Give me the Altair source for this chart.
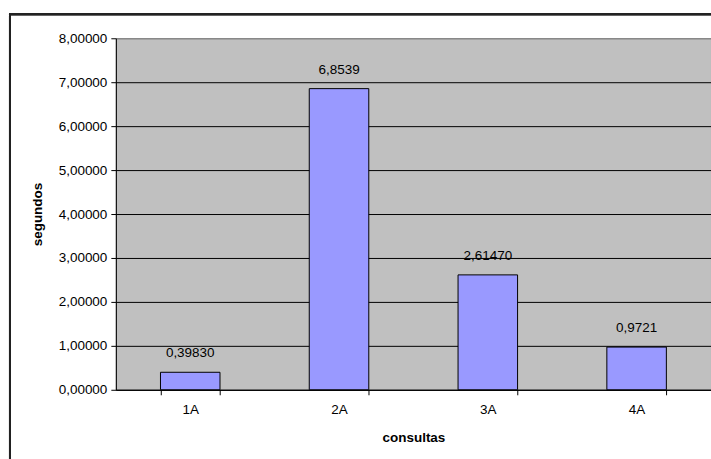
import altair as alt
import pandas as pd

# Query timings (seconds) per query
consultas = ["1A", "2A", "3A", "4A"]
segundos = [0.39830, 6.8539, 2.61470, 0.9721]
rotulos = ["0,39830", "6,8539", "2,61470", "0,9721"]

df = pd.DataFrame({"consulta": consultas, "segundos": segundos, "rotulo": rotulos})

FONT = "Liberation Sans"
FS = 13.5

x_enc = alt.X(
    "consulta:N",
    sort=consultas,
    scale=alt.Scale(paddingInner=0.6, paddingOuter=0.3),
    axis=alt.Axis(
        title="consultas",
        labelAngle=0,
        tickBand="extent",
        tickSize=5,
        tickColor="black",
        domainColor="black",
        labelPadding=8,
        titlePadding=14,
    ),
)

y_scale = alt.Scale(domain=[0, 8], nice=False)

bars = alt.Chart(df).mark_bar(
    color="#9999FF", stroke="black", strokeWidth=1
).encode(
    x=x_enc,
    y=alt.Y(
        "segundos:Q",
        scale=y_scale,
        axis=alt.Axis(
            title="segundos",
            values=list(range(0, 9)),
            labelExpr="replace(format(datum.value, '.5f'), '.', ',')",
            tickSize=5,
            tickColor="black",
            domainColor="black",
            gridColor={"condition": {"test": "datum.value == 8", "value": "#808080"}, "value": "black"},
            gridOpacity=1,
            labelPadding=4,
            titlePadding=14,
        ),
    ),
)

labels = alt.Chart(df).mark_text(
    dy=-12, fontSize=FS, font=FONT, color="black", baseline="bottom"
).encode(
    x=alt.X("consulta:N", sort=consultas),
    y=alt.Y("segundos:Q", scale=y_scale),
    text="rotulo:N",
)

# Outer chart frame
frame = alt.Chart(df).mark_rect(
    fill=None, stroke="#222222", strokeWidth=2, clip=False
).encode(
    x=alt.value(-106), x2=alt.value(700), y=alt.value(-24), y2=alt.value(500)
)

chart = (
    alt.layer(frame, bars, labels)
    .properties(
        width=596,
        height=352,
        background="white",
        padding={"left": 116, "top": 38, "right": 0, "bottom": 70},
        autosize=alt.AutoSizeParams(type="none"),
    )
    .configure_view(fill="#C0C0C0", stroke="#808080", strokeWidth=1)
    .configure_axis(
        labelFont=FONT,
        labelFontSize=FS,
        labelColor="black",
        titleFont=FONT,
        titleFontSize=FS,
        titleFontWeight="bold",
        titleColor="black",
        grid=True,
    )
    .configure_axisX(grid=False)
)

chart.save("out.html", embed_options={"renderer": "svg", "actions": False})
